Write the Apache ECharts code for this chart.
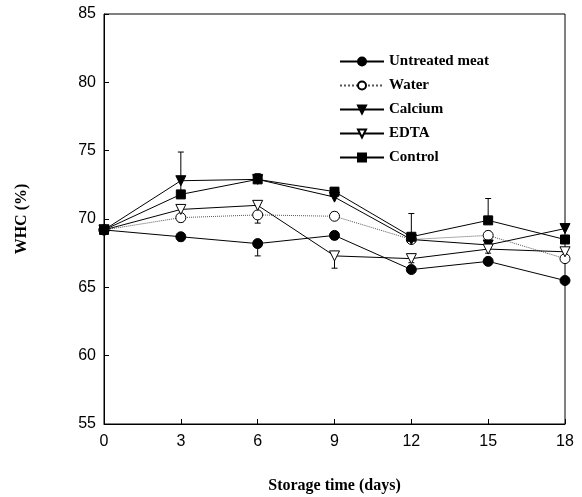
<!DOCTYPE html>
<html><head><meta charset="utf-8">
<script src="https://cdn.jsdelivr.net/npm/echarts@6/dist/echarts.min.js"></script>
<style>html,body{margin:0;padding:0;background:#fff}#c{width:582px;height:497px}</style>
</head><body><div id="c"></div>
<script>
const days = [0, 3, 6, 9, 12, 15, 18];
const untreated = [69.2, 68.7, 68.2, 68.8, 66.3, 66.9, 65.5];
const water     = [69.2, 70.1, 70.3, 70.2, 68.5, 68.8, 67.1];
const calcium   = [69.2, 72.8, 72.9, 71.6, 68.5, 68.1, 69.3];
const edta      = [69.2, 70.7, 71.0, 67.3, 67.1, 67.8, 67.6];
const control   = [69.2, 71.8, 72.9, 72.0, 68.7, 69.9, 68.5];
// one-sided error bars (positive = up, negative = down)
const untreatedErr = [0, -0.3, -0.9, -0.3, -0.2, -0.3, -0.2];
const waterErr     = [0, -0.3, -0.6, 0.3, 0.2, 0.3, 0.3];
const calciumErr   = [0, 2.1, 0.4, 0.4, 0.2, -0.3, 0.3];
const edtaErr      = [0, 0.3, 0.3, -0.9, -0.3, -0.3, -0.3];
const controlErr   = [0, 1.2, 0.4, 0.3, 1.7, 1.6, 0.3];
const yTicks = [55, 60, 65, 70, 75, 80, 85];

const chart = echarts.init(document.getElementById('c'));
function pts(v){ return days.map((d,i)=>[d, v[i]]); }
function errs(v,e){ return days.map((d,i)=>[d, v[i], v[i]+e[i]]).filter((p,i)=>e[i]!==0); }
function errSeries(v,e){
  return {
    type:'custom', silent:true, z:1, data: errs(v,e),
    renderItem:function(params, api){
      const p0 = api.coord([api.value(0), api.value(1)]);
      const p1 = api.coord([api.value(0), api.value(2)]);
      return {type:'group', children:[
        {type:'line', shape:{x1:p0[0],y1:p0[1],x2:p1[0],y2:p1[1]}, style:{stroke:'#000',lineWidth:1}},
        {type:'line', shape:{x1:p1[0]-3,y1:p1[1],x2:p1[0]+3,y2:p1[1]}, style:{stroke:'#000',lineWidth:1}}
      ]};
    }
  };
}
function lineSeries(name, v, symbol, filled, dotted){
  return {
    name:name, type:'line', data:pts(v), symbol:symbol, symbolSize: symbol==='rect'?9:10,
    symbolRotate: symbol==='triangle'?180:0,
    lineStyle:{color: dotted?'#555':'#000', width:1, type: dotted?'dotted':'solid'},
    itemStyle:{color: filled?'#000':'#fff', borderColor:'#000', borderWidth:1},
    z:3
  };
}
chart.setOption({
  animation:false,
  grid:{left:104, right:17, top:14, bottom:73, outerBoundsMode:'none', containLabel:false,
        show:true, borderColor:'#000', borderWidth:1},
  legend:{
    orient:'vertical', left:334, top:49, itemWidth:44, itemHeight:10, itemGap:9,
    textStyle:{fontFamily:'Liberation Serif', fontWeight:'bold', fontSize:15, color:'#000'},
    data:['Untreated meat','Water','Calcium','EDTA','Control']
  },
  xAxis:{
    type:'value', min:0, max:18, interval:3,
    name:'Storage time (days)', nameLocation:'middle', nameGap:54,
    nameTextStyle:{fontFamily:'Liberation Serif', fontWeight:'bold', fontSize:16, color:'#000'},
    axisLine:{lineStyle:{color:'#000'}}, splitLine:{show:false},
    axisTick:{inside:true, length:5, lineStyle:{color:'#000'}},
    axisLabel:{fontFamily:'Liberation Sans', fontSize:16, color:'#000', margin:10}
  },
  yAxis:{
    type:'value', min:55, max:85, interval:5,
    name:'WHC (%)', nameLocation:'middle', nameGap:74,
    nameTextStyle:{fontFamily:'Liberation Serif', fontWeight:'bold', fontSize:16, color:'#000'},
    axisLine:{lineStyle:{color:'#000'}}, splitLine:{show:false},
    axisTick:{inside:true, length:5, lineStyle:{color:'#000'}},
    axisLabel:{fontFamily:'Liberation Sans', fontSize:16, color:'#000', margin:8,
      formatter:function(v){ return yTicks.indexOf(v)>=0 ? String(v) : ''; }}
  },
  series:[
    errSeries(untreated, untreatedErr),
    errSeries(water, waterErr),
    errSeries(calcium, calciumErr),
    errSeries(edta, edtaErr),
    errSeries(control, controlErr),
    lineSeries('Untreated meat', untreated, 'circle', true, false),
    lineSeries('Water', water, 'circle', false, true),
    lineSeries('Calcium', calcium, 'triangle', true, false),
    lineSeries('EDTA', edta, 'triangle', false, false),
    lineSeries('Control', control, 'rect', true, false)
  ]
});
</script></body></html>
